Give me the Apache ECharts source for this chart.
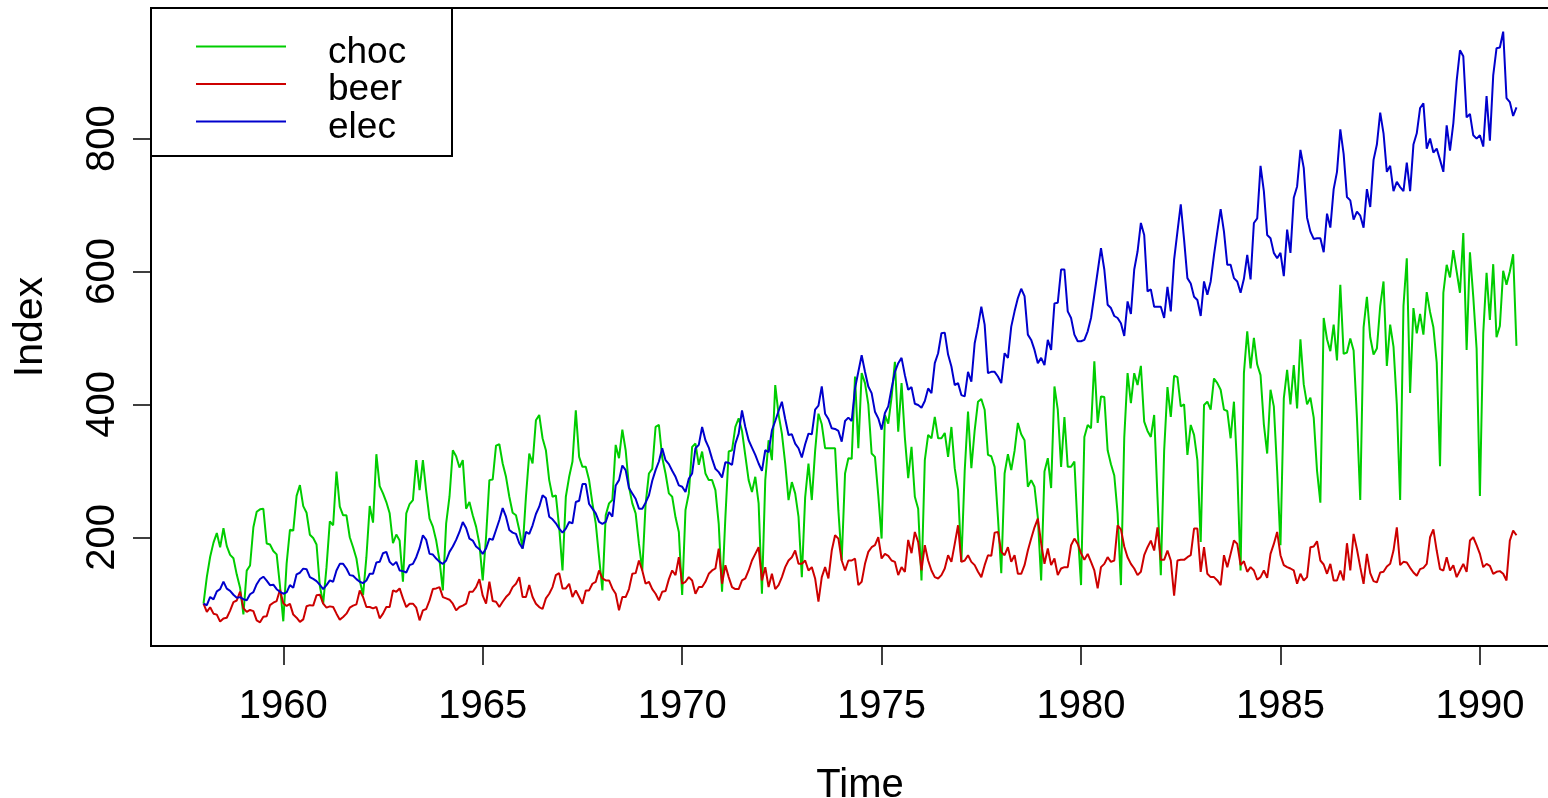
<!DOCTYPE html>
<html>
<head>
<meta charset="utf-8">
<title>cbe index</title>
<script src="https://cdn.jsdelivr.net/npm/echarts@6/dist/echarts.min.js"></script>
<style>
  html, body { margin: 0; padding: 0; background: #fff; }
  #main { width: 1548px; height: 798px; }
</style>
</head>
<body>
<div id="main"></div>
<script>
// 月度数据, 1958年1月起, 以首月=100 的指数
var startYear = 1958;
var xTicks = [1960, 1965, 1970, 1975, 1980, 1985, 1990];
var yTicks = [200, 400, 600, 800];

var choc = [
    100, 140.4, 170.7, 191.9, 206.3, 184.8, 213.5, 186.6, 173.5, 168.5, 143.8, 124.1,
    83.8, 149.8, 157.5, 215.1, 238.3, 242.0, 242.9, 190.7, 189.1, 179.4, 174.2, 127.2,
    73.5, 160.4, 211.3, 210.1, 262.3, 278.6, 246.9, 236.9, 203.8, 198.8, 189.1, 126.6,
    100, 155, 224, 218, 299, 246, 233, 233, 200, 185, 168, 135,
    113, 170, 247, 222, 325, 277, 266, 253, 236, 191, 204, 195,
    133, 236, 250, 256, 316, 271, 316, 269, 228, 216, 195, 165,
    120, 221, 261, 331, 322, 305, 316, 243, 253, 233, 216, 190,
    135, 200, 286, 287, 338, 340, 311, 291, 261, 237, 233, 211,
    183, 261, 326, 311, 376, 384, 349, 331, 286, 261, 263, 215,
    150, 261, 291, 314, 391, 321, 306, 306, 286, 251, 221, 170,
    120, 233, 251, 256, 339, 319, 362, 331, 276, 251, 236, 190,
    150, 250, 296, 303, 366, 369, 320, 296, 266, 261, 230, 208,
    113, 241, 266, 336, 341, 309, 329, 296, 286, 286, 271, 220,
    118, 230, 329, 331, 366, 379, 360, 323, 286, 268, 291, 251,
    115, 286, 346, 316, 429, 385, 356, 311, 256, 283, 266, 231,
    140, 260, 311, 256, 330, 386, 370, 334, 334, 334, 334, 240,
    165, 296, 319, 318, 442, 334, 447, 432, 400, 326, 321, 263,
    198, 384, 371, 411, 464, 359, 432, 350, 289, 336, 261, 243,
    135, 316, 354, 349, 381, 349, 349, 357, 321, 366, 304, 271,
    163, 300, 389, 304, 361, 404, 408, 392, 324, 322, 306, 230,
    146, 296, 325, 301, 330, 372, 355, 346, 276, 286, 276, 230,
    135, 299, 319, 274, 427, 392, 306, 381, 306, 306, 314, 210,
    128, 351, 369, 364, 465, 372, 412, 411, 331, 310, 293, 236,
    128, 350, 447, 402, 447, 429, 458, 374, 360, 351, 384, 260,
    143, 330, 426, 381, 443, 441, 397, 400, 324, 369, 354, 316,
    193, 399, 404, 392, 439, 432, 422, 392, 390, 349, 404, 300,
    150, 447, 510, 454, 500, 460, 444, 370, 326, 422, 397, 300,
    188, 409, 452, 400, 459, 394, 498, 430, 400, 410, 380, 300,
    252, 530, 498, 480, 520, 466, 580, 476, 478, 499, 481, 380,
    256, 516, 562, 501, 475, 484, 548, 585, 458, 520, 487, 400,
    256, 548, 620, 417, 545, 507, 536, 505, 569, 539, 516, 463,
    307, 568, 610, 591, 632, 600, 568, 658, 482, 629, 562, 484,
    262, 507, 598, 527, 611, 501, 518, 601, 580, 600, 626, 488
];

var beer = [
    100, 87.6, 94.7, 85.0, 83.6, 73.1, 77.7, 78.8, 89.6, 102.5, 104.8, 118.2,
    93.3, 87.6, 90.6, 88.9, 74.8, 71.9, 80.5, 81.1, 97.9, 101.5, 104.0, 120.9,
    100.8, 96.6, 99.7, 83.6, 79.0, 72.6, 76.4, 96.2, 97.8, 97.1, 112.7, 113.6,
    100, 94, 96, 95, 85, 76, 80, 85, 94, 97, 99, 120,
    110, 95, 95, 93, 95, 78, 85, 95, 95, 120, 118, 123,
    108, 95, 100, 100, 94, 75, 90, 92, 105, 122, 123, 125,
    110, 108, 106, 100, 90, 95, 97, 100, 118, 118, 125, 137,
    112, 100, 133, 104, 103, 95, 103, 110, 115, 125, 130, 140,
    110, 110, 128, 110, 100, 95, 92, 108, 115, 125, 143, 146,
    123, 123, 130, 110, 120, 110, 100, 120, 120, 130, 133, 150,
    138, 135, 135, 123, 115, 90, 110, 110, 122, 145, 146, 165,
    150, 130, 133, 122, 115, 105, 118, 119, 137, 150, 143, 170,
    130, 133, 140, 135, 115, 125, 125, 133, 145, 150, 153, 183,
    130, 158, 140, 125, 122, 122, 135, 138, 150, 165, 175, 185,
    135, 155, 125, 145, 122, 128, 140, 155, 165, 170, 180, 160,
    160, 165, 150, 155, 138, 103, 140, 155, 138, 180, 203, 198,
    165, 150, 165, 165, 168, 128, 133, 160, 178, 185, 188, 200,
    168, 175, 172, 165, 163, 143, 155, 148, 196, 176, 208, 193,
    150, 188, 165, 150, 140, 138, 143, 153, 173, 163, 190, 218,
    163, 165, 173, 163, 158, 148, 140, 158, 173, 172, 207, 208,
    178, 173, 185, 163, 173, 145, 145, 158, 180, 198, 215, 228,
    191, 160, 183, 158, 168, 143, 153, 155, 155, 188, 198, 190,
    176, 166, 175, 163, 150, 123, 155, 160, 170, 163, 165, 218,
    212, 186, 170, 160, 153, 143, 148, 173, 185, 195, 180, 215,
    166, 166, 180, 165, 112, 165, 166, 166, 170, 173, 213, 213,
    148, 185, 145, 140, 140, 135, 128, 173, 155, 175, 195, 190,
    158, 164, 148, 155, 150, 136, 140, 150, 139, 175, 190, 208,
    173, 158, 155, 153, 150, 130, 145, 135, 140, 185, 186, 194,
    165, 159, 145, 160, 135, 135, 150, 135, 191, 150, 205, 182,
    155, 130, 175, 146, 134, 132, 147, 148, 156, 160, 180, 215,
    158, 163, 162, 154, 147, 142, 152, 154, 160, 200, 212, 180,
    152, 150, 170, 150, 158, 140, 150, 160, 148, 195, 200, 188,
    175, 155, 160, 157, 145, 148, 149, 145, 135, 195, 210, 203
];

var elec = [
    100, 97.7, 110.1, 106.5, 118.7, 121.8, 133.2, 122.6, 119.4, 113.5, 109.1, 109.9,
    106.7, 105.3, 114.2, 117.3, 129.3, 137.1, 140.6, 134.7, 127.9, 128.6, 121.8, 117.9,
    115.0, 117.0, 127.9, 124.0, 144.2, 146.6, 152.8, 152.0, 140.0, 137.3, 133.9, 128.5,
    122, 128, 135, 133, 150, 160, 160, 153, 143, 142, 137, 133,
    131, 135, 145, 145, 162, 163, 176, 178, 163, 158, 163, 150,
    149, 147, 158, 160, 170, 184, 203, 196, 175, 174, 168, 163,
    160, 165, 178, 186, 196, 208, 223, 214, 198, 195, 186, 182,
    175, 183, 198, 196, 211, 226, 244, 231, 211, 207, 205, 191,
    183, 208, 205, 218, 235, 246, 263, 259, 231, 227, 221, 213,
    207, 213, 223, 221, 253, 255, 280, 280, 250, 243, 236, 223,
    220, 223, 238, 231, 278, 286, 308, 301, 274, 266, 258, 243,
    243, 252, 263, 285, 301, 314, 334, 316, 310, 300, 291, 278,
    276, 268, 288, 296, 334, 339, 366, 346, 335, 318, 303, 298,
    290, 313, 312, 309, 341, 356, 391, 366, 346, 335, 324, 311,
    300, 331, 328, 361, 375, 390, 404, 378, 354, 355, 341, 334,
    320, 340, 356, 355, 392, 398, 427, 386, 378, 364, 363, 360,
    344, 375, 380, 375, 424, 449, 474, 449, 427, 417, 389, 379,
    362, 387, 397, 424, 449, 462, 470, 444, 422, 426, 401, 399,
    395, 405, 424, 417, 462, 477, 507, 508, 475, 457, 429, 432,
    414, 412, 449, 434, 492, 517, 547, 520, 447, 449, 449, 442,
    432, 477, 470, 517, 540, 560, 574, 563, 505, 497, 482, 462,
    470, 459, 497, 482, 552, 553, 603, 603, 540, 530, 505, 495,
    495, 497, 510, 530, 565, 600, 635, 603, 550, 545, 533, 530,
    522, 503, 555, 536, 603, 630, 673, 655, 570, 573, 547, 547,
    547, 530, 577, 540, 618, 660, 701, 648, 590, 582, 562, 557,
    533, 585, 565, 585, 625, 660, 694, 660, 610, 610, 590, 585,
    568, 589, 625, 588, 673, 680, 759, 721, 655, 650, 628, 620,
    628, 593, 663, 628, 711, 728, 783, 756, 681, 660, 649, 650,
    650, 629, 687, 666, 724, 750, 814, 777, 712, 707, 678, 690,
    684, 666, 724, 697, 768, 791, 839, 808, 750, 759, 721, 735,
    727, 721, 764, 721, 791, 808, 846, 853, 785, 800, 779, 785,
    768, 750, 820, 782, 823, 887, 933, 924, 832, 837, 805, 800,
    805, 788, 864, 797, 895, 936, 937, 961, 861, 855, 834, 847
];

var seriesNames = ['choc', 'beer', 'elec'];
var seriesColors = ['#00CD00', '#CD0000', '#0000CD'];

//把数据拼成Echarts的形式
function toPairs(arr) {
    var out = [];
    for (var i = 0; i < arr.length; i++) {
        out.push([startYear + i / 12, arr[i]]);
    }
    return out;
}

// R 默认坐标范围: 数据范围两端各扩 4%
var all = choc.concat(beer, elec);
var yLo = Math.min.apply(null, all), yHi = Math.max.apply(null, all);
var xLo = startYear, xHi = startYear + (choc.length - 1) / 12;
var yPad = (yHi - yLo) * 0.04, xPad = (xHi - xLo) * 0.04;

var font = "'Liberation Sans', Arial, sans-serif";

var mychart = echarts.init(document.getElementById('main'), null, {renderer: 'canvas'});

var option = {
    animation: false,
    backgroundColor: '#fff',
    grid: {
        show: true,
        left: 151,
        top: 8,
        width: 1418,
        height: 638,
        containLabel: false,
        outerBoundsMode: 'none',
        borderColor: '#000',
        borderWidth: 2,
        backgroundColor: 'transparent'
    },
    legend: {
        orient: 'vertical',
        left: 196,
        top: 22,
        padding: 0,
        itemGap: -11.5,
        itemWidth: 90,
        itemHeight: 2,
        icon: 'rect',
        data: seriesNames,
        formatter: '{t|{name}}',
        textStyle: {
            fontFamily: font,
            fontSize: 37,
            color: '#000',
            padding: [0, 0, 0, 37],
            rich: {
                t: {
                    fontFamily: font,
                    fontSize: 37,
                    color: '#000',
                    lineHeight: 24,
                    padding: [12, 0, 0, 0]
                }
            }
        },
        z: 10
    },
    graphic: [{
        type: 'rect',
        shape: {x: 151, y: 8, width: 301, height: 148},
        style: {fill: '#fff', stroke: '#000', lineWidth: 2},
        z: 5
    }],
    xAxis: {
        type: 'value',
        min: xLo - xPad,
        max: xHi + xPad,
        splitLine: {show: false},
        axisLine: {show: false},
        axisTick: {
            show: true,
            length: 19,
            customValues: xTicks,
            lineStyle: {color: '#000', width: 1.5}
        },
        axisLabel: {
            customValues: xTicks,
            margin: 41,
            fontFamily: font,
            fontSize: 40,
            color: '#000',
            formatter: function (v) { return String(v); }
        },
        name: 'Time',
        nameLocation: 'middle',
        nameGap: 120,
        nameTextStyle: {fontFamily: font, fontSize: 40, color: '#000'}
    },
    yAxis: {
        type: 'value',
        min: yLo - yPad,
        max: yHi + yPad,
        splitLine: {show: false},
        axisLine: {show: false},
        axisTick: {
            show: true,
            length: 18,
            customValues: yTicks,
            lineStyle: {color: '#000', width: 1.5}
        },
        axisLabel: {
            customValues: yTicks,
            rotate: 90,
            align: 'center',
            verticalAlign: 'middle',
            margin: 48,
            fontFamily: font,
            fontSize: 40,
            color: '#000',
            formatter: function (v) { return String(v); }
        },
        name: 'Index',
        nameLocation: 'middle',
        nameGap: 100,
        nameRotate: 90,
        nameTextStyle: {fontFamily: font, fontSize: 41, color: '#000'}
    },
    series: [choc, beer, elec].map(function (arr, k) {
        return {
            name: seriesNames[k],
            type: 'line',
            data: toPairs(arr),
            showSymbol: false,
            symbol: 'none',
            color: seriesColors[k],
            lineStyle: {width: 2, color: seriesColors[k]},
            clip: true
        };
    })
};
mychart.setOption(option);
</script>
</body>
</html>
